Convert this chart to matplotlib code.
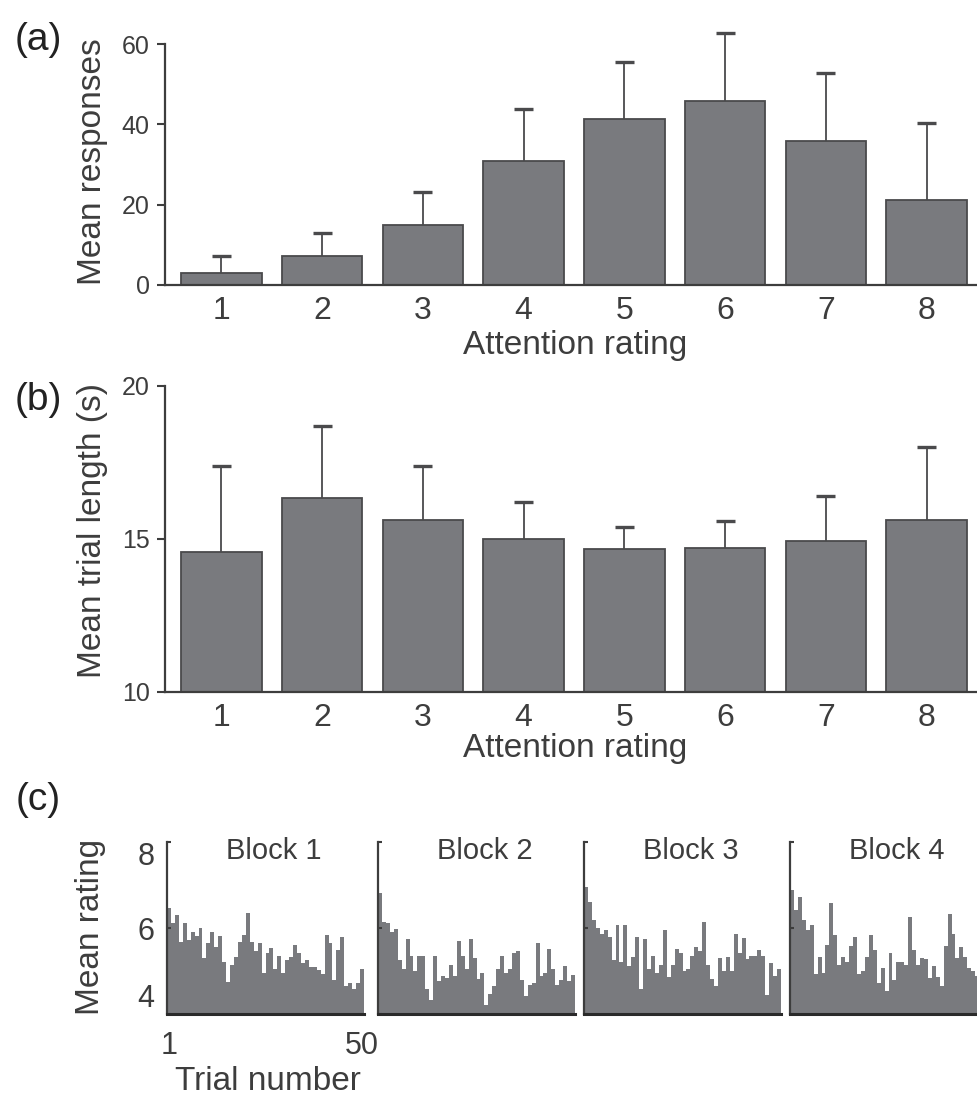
import numpy as np
import matplotlib.pyplot as plt

plt.rcParams['font.family'] = ['Liberation Sans', 'DejaVu Sans']

# panel (a): mean responses per attention rating, and top of error bar
ratings = [1, 2, 3, 4, 5, 6, 7, 8]
resp_mean = [2.9, 7.2, 14.9, 30.8, 41.4, 45.8, 35.9, 21.2]
resp_top = [7.2, 13.0, 23.2, 43.8, 55.6, 62.8, 52.7, 40.3]

# panel (b): mean trial length (s)
len_mean = [14.56, 16.35, 15.61, 15.01, 14.66, 14.71, 14.94, 15.62]
len_top = [17.38, 18.68, 17.37, 16.22, 15.38, 15.60, 16.42, 18.00]

# panel (c): mean rating per trial, 4 blocks of 50 trials
block1 = [6.46, 6.12, 6.30, 5.67, 6.11, 5.72, 5.90, 5.81, 5.99, 5.31,
          5.64, 5.90, 5.56, 5.81, 5.20, 4.74, 5.13, 5.32, 5.67, 5.83,
          6.34, 5.67, 5.46, 5.64, 4.95, 5.43, 5.53, 5.05, 5.36, 4.95,
          5.25, 5.32, 5.60, 5.41, 5.18, 5.25, 5.09, 5.09, 5.03, 4.93,
          5.83, 5.64, 4.78, 5.48, 5.78, 4.66, 4.73, 4.59, 4.73, 5.04]
block2 = [6.82, 6.14, 6.12, 5.90, 5.98, 5.25, 5.04, 5.74, 5.36, 5.00,
          5.36, 5.36, 4.57, 4.33, 5.36, 4.76, 4.89, 4.83, 5.13, 4.88,
          5.69, 5.36, 5.04, 5.74, 5.30, 4.82, 4.95, 4.21, 4.46, 4.65,
          5.04, 5.36, 4.95, 5.04, 5.42, 5.46, 4.78, 4.42, 4.68, 4.73,
          5.66, 4.88, 4.95, 5.51, 5.04, 4.68, 4.78, 5.11, 4.76, 4.90]
block3 = [6.96, 6.61, 6.18, 5.99, 5.85, 5.95, 5.78, 5.25, 6.08, 5.20,
          6.08, 5.11, 5.32, 5.78, 4.57, 5.74, 5.04, 5.36, 4.95, 5.15,
          5.95, 4.86, 5.13, 5.51, 5.41, 5.00, 5.04, 5.36, 5.55, 5.46,
          6.13, 5.15, 4.81, 4.65, 5.30, 5.00, 5.32, 5.00, 5.85, 5.43,
          5.76, 5.27, 5.36, 5.36, 5.48, 5.34, 4.44, 5.18, 4.88, 5.04]
block4 = [6.88, 6.41, 6.72, 6.18, 5.95, 6.06, 4.92, 5.32, 4.96, 5.60,
          6.58, 5.83, 5.15, 5.32, 5.20, 5.57, 5.78, 4.94, 5.01, 5.32,
          5.83, 5.48, 4.72, 5.06, 4.53, 5.41, 4.79, 5.22, 5.20, 5.15,
          6.25, 5.50, 5.13, 5.30, 5.28, 4.83, 5.11, 4.86, 4.66, 5.57,
          6.32, 5.85, 5.30, 5.55, 5.32, 5.06, 5.01, 4.89, 4.90, 5.00]
blocks = [block1, block2, block3, block4]
block_names = ['Block 1', 'Block 2', 'Block 3', 'Block 4']

BAR = '#797a7e'
EDGE = '#4a4a4c'
INK = '#3d3d3d'
W, H = 977, 1097

fig = plt.figure(figsize=(W / 100, H / 100), dpi=100)


def px_axes(l, t, r, b):
    return fig.add_axes([l / W, 1 - b / H, (r - l) / W, (b - t) / H])


def bar_panel(ax, mean, top, ylim, yticks):
    x = np.array(ratings)
    ax.bar(x, np.array(mean) - ylim[0], bottom=ylim[0], width=0.8,
           color=BAR, edgecolor=EDGE, linewidth=1.3, zorder=2)
    ax.vlines(x, mean, top, color=EDGE, linewidth=1.3, zorder=1, clip_on=False)
    ax.hlines(top, x - 0.095, x + 0.095, color=EDGE, linewidth=2.4, zorder=1,
              clip_on=False)
    ax.set_xlim(0.44, 8.5)
    ax.set_ylim(*ylim)
    ax.set_yticks(yticks)
    ax.set_xticks(ratings)
    for s in ['top', 'right']:
        ax.spines[s].set_visible(False)
    for s in ['left', 'bottom']:
        ax.spines[s].set_color(INK)
        ax.spines[s].set_linewidth(1.6)
    ax.tick_params(axis='y', length=6, width=1.5, color=INK, labelsize=18,
                   labelcolor=INK, pad=5)
    ax.tick_params(axis='x', length=0, labelsize=23, labelcolor=INK, pad=8)


ax_a = px_axes(165, 44, 977, 285)
bar_panel(ax_a, resp_mean, resp_top, (0, 60), [0, 20, 40, 60])
ax_b = px_axes(165, 386, 977, 692)
bar_panel(ax_b, len_mean, len_top, (10, 20), [10, 15, 20])

for y, lab in [(162, 'Mean responses'), (531, 'Mean trial length (s)')]:
    fig.text(93 / W, 1 - y / H, lab, rotation=90, ha='center', va='center',
             fontsize=24, color=INK)
for y in [354, 757]:
    fig.text(575 / W, 1 - y / H, 'Attention rating', ha='center',
             va='baseline', fontsize=24, color=INK)

for y, lab in [(40, '(a)'), (400, '(b)'), (800, '(c)')]:
    fig.text(38 / W, 1 - y / H, lab, ha='center', va='center', fontsize=28,
             color='#222222')

# panel (c)
edges = np.arange(0.5, 51.0, 1.0)
xs = [(167, 364), (378, 575), (584, 781), (790, 987)]
for k, (l, r) in enumerate(xs):
    ax = px_axes(l, 842, r, 1014)
    ax.stairs(blocks[k], edges, baseline=4, fill=True, color=BAR)
    ax.set_xlim(0.5, 50.5)
    ax.set_ylim(4, 8)
    ax.set_yticks([4, 6, 8])
    for s in ['top', 'right']:
        ax.spines[s].set_visible(False)
    ax.spines['left'].set_color(INK)
    ax.spines['left'].set_linewidth(1.6)
    ax.spines['bottom'].set_color('#2a2a2a')
    ax.spines['bottom'].set_linewidth(2.2)
    ax.tick_params(axis='y', direction='in', length=3, width=1.5, color=INK,
                   labelsize=22, labelcolor=INK, pad=9)
    ax.tick_params(axis='x', length=0, labelsize=22, labelcolor=INK, pad=12)
    ax.text(0.54, 0.95, block_names[k], transform=ax.transAxes, ha='center',
            va='center', fontsize=21, color=INK)
    if k == 0:
        ax.set_xticks([1, 50])
        ax.set_xticklabels(['1', '50'])
        ax.set_yticklabels(['4', '6', '8'])
        lbls = ax.get_yticklabels()
        lbls[0].set_va('bottom')
        lbls[2].set_va('top')
    else:
        ax.set_xticks([])
        ax.set_yticklabels([])

fig.text(90 / W, 1 - 927 / H, 'Mean rating', rotation=90, ha='center',
         va='center', fontsize=24, color=INK)
fig.text(268 / W, 1 - 1090 / H, 'Trial number', ha='center', va='baseline',
         fontsize=24, color=INK)

fig.savefig('out.png', dpi=100)
